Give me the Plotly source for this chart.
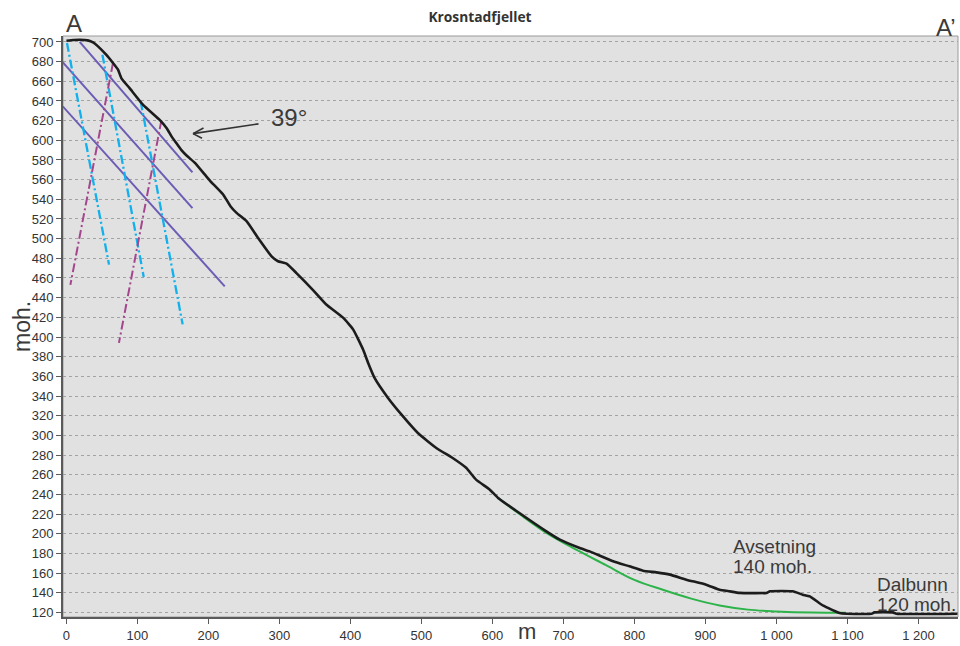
import plotly.graph_objects as go

# Terrain profile A - A' (distance in m, elevation in moh.)
profile_x = [0, 10, 19, 30, 37.5, 44.5, 56, 65.6, 72.7, 77.5, 89, 108, 131, 141, 148,
             155, 162, 170, 181, 197, 203, 221, 231, 240, 254, 270, 289, 298, 310, 324,
             347, 366, 390, 404, 418, 425, 434, 453, 472, 495, 521, 544, 563, 577, 596,
             608, 638, 676, 695, 723, 737, 770, 793, 812, 831, 850, 873, 901, 920, 934,
             948, 986, 991, 1023, 1037, 1047, 1066, 1089, 1099, 1134, 1138, 1164, 1169, 1255]
profile_y = [701.3, 702, 702.3, 701.6, 699.6, 695.5, 687, 678.6, 671.8, 663, 653, 636, 621, 612.5, 604,
             597, 590, 584, 577, 563.3, 558.3, 544.7, 533, 526, 517.6, 500.7, 482, 477, 474.6, 465,
             448, 433, 419.4, 407.5, 387, 373.6, 358.4, 338, 321, 302.4, 287.2, 277, 267, 255, 245,
             236.4, 221, 202.4, 194, 185.5, 182, 172, 166.8, 162.4, 160.7, 158.4, 153.3, 148.2, 143, 141.4,
             139.8, 139.8, 141.4, 141.4, 138, 136.3, 126.8, 119.3, 118.6, 118.6, 120, 120, 118.6, 118.6]

# Fitted run-out curve towards the valley floor
runout_x = [608, 640, 680, 720, 760, 800, 840, 880, 920, 960, 1000, 1050, 1098]
runout_y = [236.4, 219, 199, 183, 168, 153, 143, 134, 127, 122.8, 121, 119.8, 119.5]

# 39 degree reference lines (solid)
slope_x = [[18.7, 177.5], [-5.6, 177.5], [-7, 223]]
slope_y = [[700, 567.4], [679.7, 531], [636, 451.5]]

# Joint sets, steep (dash-dot, cyan)
joint_a_x = [[0.8, 60], [50.7, 108.9], [104.6, 163.7]]
joint_a_y = [[699, 473.6], [687, 461], [639.6, 412.8]]

# Joint sets, dipping into slope (dash-dot, magenta)
joint_b_x = [[65.6, 5.6], [133.8, 74]]
joint_b_y = [[678.6, 453], [620.3, 394]]

y_ticks = [120, 140, 160, 180, 200, 220, 240, 260, 280, 300, 320, 340, 360, 380, 400,
           420, 440, 460, 480, 500, 520, 540, 560, 580, 600, 620, 640, 660, 680, 700]
x_ticks = [0, 100, 200, 300, 400, 500, 600, 700, 800, 900, 1000, 1100, 1200]
x_labels = ["0", "100", "200", "300", "400", "500", "600", "700", "800", "900",
            "1 000", "1 100", "1 200"]

W, H = 960, 646
L, R, T, B = 63, 2, 36, 29
PW, PH = W - L - R, H - T - B

fig = go.Figure()

for xs, ys in zip(slope_x, slope_y):
    fig.add_trace(go.Scatter(x=xs, y=ys, mode="lines",
                             line=dict(color="#6c5cb4", width=2), hoverinfo="skip"))
for xs, ys in zip(joint_a_x, joint_a_y):
    fig.add_trace(go.Scatter(x=xs, y=ys, mode="lines",
                             line=dict(color="#12b0ec", width=2.3, dash="9px,3px,2px,3px"),
                             hoverinfo="skip"))
for xs, ys in zip(joint_b_x, joint_b_y):
    fig.add_trace(go.Scatter(x=xs, y=ys, mode="lines",
                             line=dict(color="#a4468e", width=2, dash="9px,3px,2px,3px"),
                             hoverinfo="skip"))

fig.add_trace(go.Scatter(x=runout_x, y=runout_y, mode="lines",
                         line=dict(color="#2db34a", width=2, shape="spline"), hoverinfo="skip"))
fig.add_trace(go.Scatter(x=profile_x, y=profile_y, mode="lines",
                         line=dict(color="#1c1c1c", width=2.6, shape="spline", smoothing=0.4),
                         hoverinfo="skip"))


def px(x):
    return (x - L) / PW


def py(y):
    return (H - B - y) / PH


text_color = "#3a3a3a"
annotations = [
    dict(text="A", x=px(64), y=py(23), xanchor="left", yanchor="middle",
         font=dict(size=24, color=text_color)),
    dict(text="A\u2019", x=px(934), y=py(28), xanchor="left", yanchor="middle",
         font=dict(size=24, color=text_color)),
    dict(text="39°", x=px(269), y=py(117), xanchor="left", yanchor="middle",
         font=dict(size=24, color=text_color)),
    dict(text="moh.", x=px(22), y=py(327), xanchor="center", yanchor="middle",
         textangle=-90, font=dict(size=23, color=text_color)),
    dict(text="m", x=px(527), y=py(646), xanchor="center", yanchor="bottom",
         font=dict(size=22, color=text_color)),
    dict(text="Avsetning", x=px(731), y=py(546), xanchor="left", yanchor="middle",
         font=dict(size=19, color=text_color)),
    dict(text="140 moh.", x=px(731), y=py(566), xanchor="left", yanchor="middle",
         font=dict(size=19, color=text_color)),
    dict(text="Dalbunn", x=px(875), y=py(584), xanchor="left", yanchor="middle",
         font=dict(size=19, color=text_color)),
    dict(text="120 moh.", x=px(875), y=py(604), xanchor="left", yanchor="middle",
         font=dict(size=19, color=text_color)),
]
for a in annotations:
    a.update(xref="paper", yref="paper", showarrow=False,
             font=dict(family="Liberation Sans, Arial, sans-serif", **a["font"]))

# Arrow pointing at the 39 degree slope: shaft plus two open head wings
head_x, head_y = 178.3, 606.8
for ax, ay in [(67, -10), (12, -6.5), (10.5, 5.5)]:
    annotations.append(dict(x=head_x, y=head_y, xref="x", yref="y", text="",
                            showarrow=True, arrowhead=0, arrowwidth=1.6,
                            arrowcolor="#333333", ax=ax, ay=ay, axref="pixel", ayref="pixel"))

fig.update_layout(
    width=W, height=H, autosize=False,
    margin=dict(l=L, r=R, t=T, b=B, pad=0),
    paper_bgcolor="white", plot_bgcolor="#e1e1e1",
    showlegend=False,
    title=dict(text="<b>Krosntadfjellet</b>", x=0.5, xref="container",
               y=1 - 17 / H, yref="container", xanchor="center", yanchor="middle",
               font=dict(family="Open Sans, sans-serif", size=13.8, color="#333333")),
    font=dict(family="Liberation Sans, Arial, sans-serif", size=13, color="#333333"),
    annotations=annotations,
    shapes=[dict(type="rect", xref="paper", yref="paper", x0=0, x1=1, y0=0, y1=1,
                 line=dict(color="#9a9a9a", width=1), layer="below")],
)

fig.update_xaxes(
    range=[-4.8, -4.8 + PW / 0.71],
    tickvals=x_ticks, ticktext=x_labels,
    showgrid=False, zeroline=False,
    showline=True, linecolor="#5a5a5a", linewidth=2,
    ticks="outside", ticklen=5, tickwidth=1, tickcolor="#5a5a5a",
    tickfont=dict(size=13, color="#333333"),
)
fig.update_yaxes(
    range=[115.3, 115.3 + PH / 0.9835],
    tickvals=y_ticks,
    showgrid=True, gridcolor="#a3a3a3", griddash="dot", gridwidth=1,
    zeroline=False,
    showline=True, linecolor="#5a5a5a", linewidth=2,
    ticks="outside", ticklen=5, tickwidth=1, tickcolor="#5a5a5a",
    tickfont=dict(size=13, color="#333333"),
)

fig.write_html("out.html")
